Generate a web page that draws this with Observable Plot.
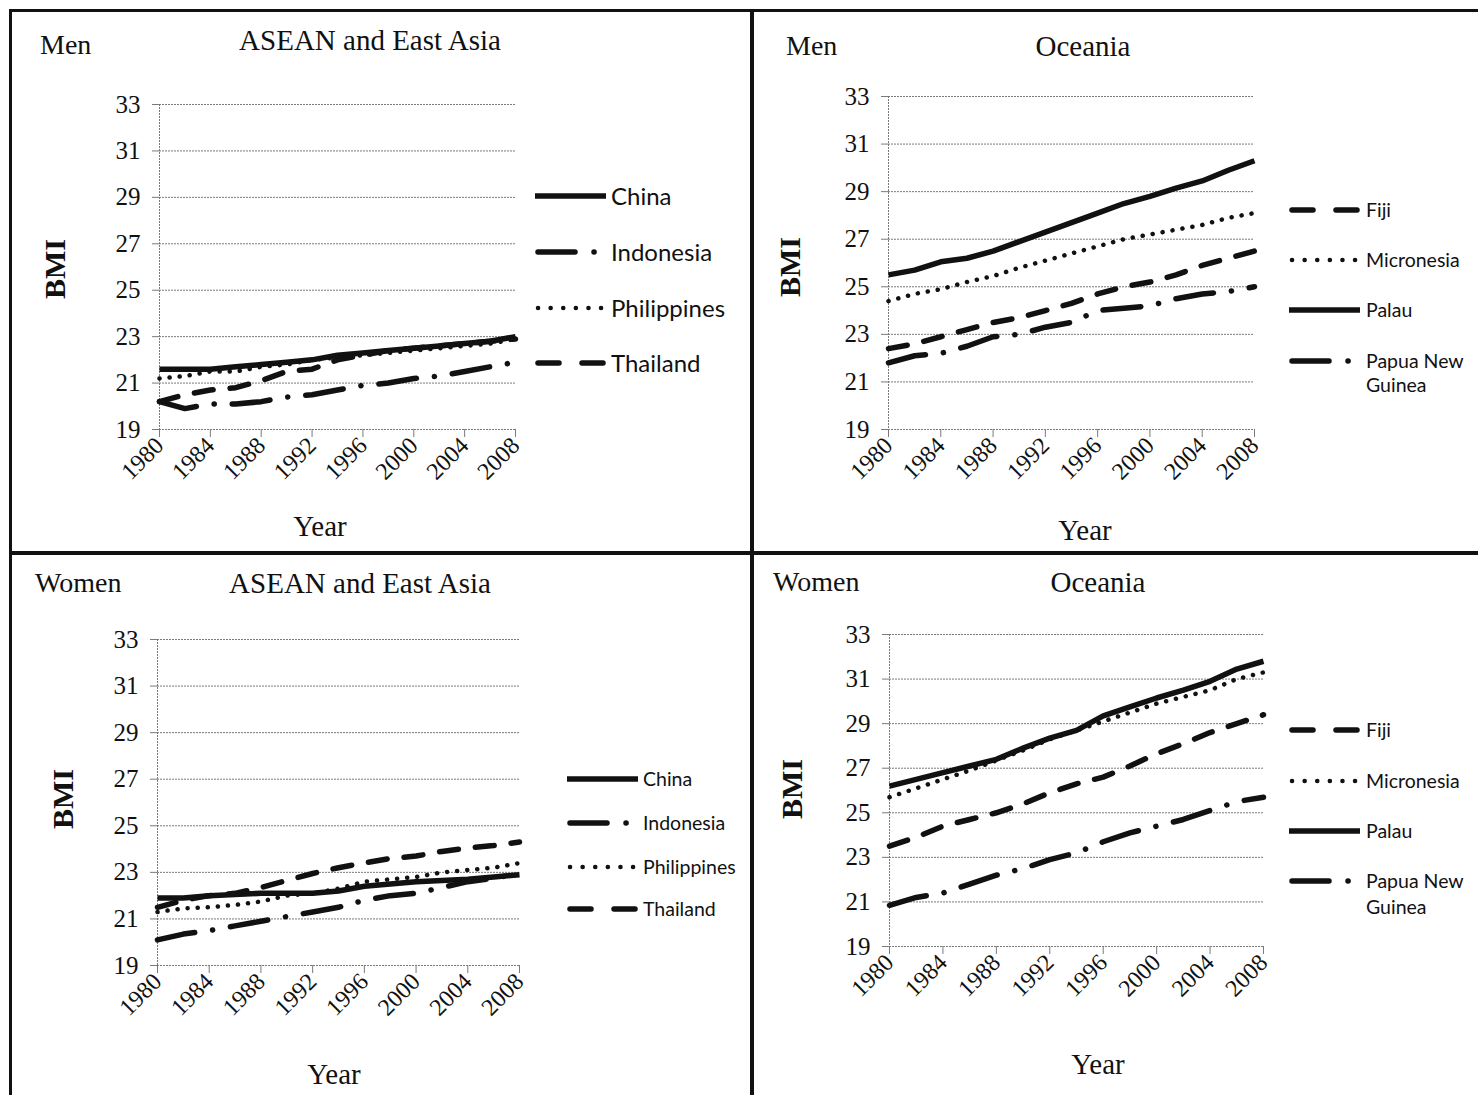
<!DOCTYPE html>
<html>
<head>
<meta charset="utf-8">
<script src="https://cdn.jsdelivr.net/npm/d3@7"></script>
<script src="https://cdn.jsdelivr.net/npm/@observablehq/plot@0.6"></script>
<style>
  html, body { margin: 0; padding: 0; background: #fff; }
  #page { position: relative; width: 1478px; height: 1095px; overflow: hidden; background: #fff; }
  .abs { position: absolute; }
  .serif { font-family: "Liberation Serif", "Times New Roman", serif; color: #111; }
  .leg { font-family: Lato, "Open Sans", sans-serif; color: #111; white-space: nowrap; }
  .rule { position: absolute; background: #111; }
</style>
</head>
<body>
<div id="page"></div>
<script>
// ---------------- DATA ----------------
const years = [1980,1982,1984,1986,1988,1990,1992,1994,1996,1998,2000,2002,2004,2006,2008];
const yTicks = [19,21,23,25,27,29,31,33];
const xTicks = [1980,1984,1988,1992,1996,2000,2004,2008];

// Men – ASEAN and East Asia
const menChina       = [21.6,21.6,21.6,21.7,21.8,21.9,22.0,22.2,22.3,22.4,22.5,22.6,22.7,22.8,23.0];
const menIndonesia   = [20.2,19.9,20.1,20.1,20.2,20.4,20.5,20.7,20.9,21.0,21.2,21.3,21.5,21.7,21.9];
const menPhilippines = [21.2,21.3,21.5,21.5,21.7,21.8,22.0,22.1,22.2,22.3,22.4,22.5,22.6,22.7,22.9];
const menThailand    = [20.2,20.5,20.7,20.8,21.1,21.5,21.6,22.0,22.2,22.4,22.5,22.6,22.7,22.8,22.9];

// Men – Oceania
const menFiji        = [22.4,22.6,22.9,23.2,23.5,23.7,24.0,24.3,24.7,25.0,25.2,25.5,25.9,26.2,26.5];
const menMicronesia  = [24.4,24.7,24.9,25.2,25.45,25.8,26.1,26.4,26.7,27.0,27.2,27.4,27.6,27.9,28.1];
const menPalau       = [25.5,25.7,26.05,26.2,26.5,26.9,27.3,27.7,28.1,28.5,28.8,29.15,29.45,29.9,30.3];
const menPNG         = [21.8,22.1,22.2,22.5,22.9,23.0,23.3,23.5,24.0,24.1,24.2,24.5,24.7,24.8,25.0];

// Women – ASEAN and East Asia
const womenChina       = [21.9,21.9,22.0,22.05,22.1,22.1,22.1,22.2,22.4,22.5,22.6,22.65,22.7,22.8,22.9];
const womenIndonesia   = [20.1,20.35,20.5,20.7,20.9,21.1,21.3,21.5,21.8,22.0,22.1,22.35,22.6,22.75,22.95];
const womenPhilippines = [21.3,21.45,21.5,21.6,21.75,22.0,22.1,22.3,22.6,22.7,22.8,23.0,23.1,23.2,23.4];
const womenThailand    = [21.5,21.8,22.0,22.1,22.35,22.65,22.95,23.2,23.4,23.6,23.7,23.9,24.05,24.15,24.3];

// Women – Oceania
const womenFiji        = [23.5,23.9,24.4,24.7,25.0,25.4,25.9,26.3,26.6,27.1,27.65,28.1,28.6,29.0,29.4];
const womenMicronesia  = [25.7,26.1,26.5,26.9,27.35,27.8,28.3,28.7,29.1,29.5,29.9,30.2,30.5,31.0,31.3];
const womenPalau       = [26.2,26.5,26.8,27.1,27.4,27.9,28.35,28.7,29.35,29.75,30.15,30.5,30.9,31.45,31.8];
const womenPNG         = [20.85,21.2,21.4,21.8,22.2,22.5,22.9,23.2,23.7,24.1,24.4,24.7,25.1,25.5,25.7];

// ---------------- STYLES (line patterns) ----------------
const STY = {
  solid:   {dash: null,            width: 5.5, legend: null},
  dotted:  {dash: "0.1 10",        width: 4.5, legend: "0.1 12.5"},
  dashed:  {dash: "19 17",         width: 5.5, legend: "21 23 21 300"},
  dashdot: {dash: "38 18 0.1 18",  width: 5.5, legend: "37 19 0.1 300"}
};

const page = document.getElementById("page");

function addText(txt, cls, css) {
  const d = document.createElement("div");
  d.className = "abs " + cls;
  d.textContent = txt;
  Object.assign(d.style, css);
  page.appendChild(d);
  return d;
}

function rule(x, y, w, h) {
  const d = document.createElement("div");
  d.className = "rule";
  Object.assign(d.style, {left: x + "px", top: y + "px", width: w + "px", height: h + "px"});
  page.appendChild(d);
}

function panel(cfg) {
  const mL = 80, mR = 20, mT = 20, mB = 90;
  const w = (cfg.x1 - cfg.x0) + mL + mR;
  const h = (cfg.y1 - cfg.y0) + mT + mB;
  const marks = [
    Plot.gridY(yTicks.slice(1), {stroke: "#7a7a7a", strokeOpacity: 1, strokeWidth: 1, strokeDasharray: "2 1"}),
    Plot.ruleY([19], {stroke: "#7a7a7a", strokeDasharray: "2 1"}),
    Plot.ruleX([1980], {stroke: "#7a7a7a", strokeDasharray: "2 1"}),
    Plot.axisY({ticks: yTicks, tickSize: 7, tickPadding: 12, tickFormat: d => String(d), fontSize: 25, stroke: "#7a7a7a", label: null}),
    Plot.axisX({ticks: xTicks, tickSize: 8, tickPadding: 4, tickRotate: -45, tickFormat: d => String(d), fontSize: 24, stroke: "#7a7a7a", label: null})
  ];
  for (const s of cfg.series) {
    const data = years.map((y, i) => ({year: y, bmi: s.values[i]}));
    const st = STY[s.style];
    marks.push(Plot.line(data, {
      x: "year", y: "bmi", stroke: "#111", strokeWidth: st.width,
      strokeDasharray: st.dash, strokeLinecap: st.dash ? "round" : "butt", strokeLinejoin: "round"
    }));
  }
  const svg = Plot.plot({
    width: w, height: h,
    marginLeft: mL, marginRight: mR, marginTop: mT, marginBottom: mB,
    x: {domain: [1980, 2008]},
    y: {domain: [19, 33]},
    style: {fontFamily: "'Liberation Serif', 'Times New Roman', serif", color: "#111", background: "transparent", overflow: "visible"},
    marks
  });
  svg.style.position = "absolute";
  svg.style.left = (cfg.x0 - mL) + "px";
  svg.style.top = (cfg.y0 - mT) + "px";
  page.appendChild(svg);

  // texts
  addText(cfg.sex, "serif", {left: cfg.sexX + "px", top: (cfg.sexY - 18) + "px", fontSize: "28px"});
  addText(cfg.title, "serif", {left: (cfg.titleCx - 250) + "px", width: "500px", textAlign: "center", top: (cfg.titleY - 18) + "px", fontSize: "29px"});
  addText("BMI", "serif", {left: (cfg.bmiX - 40) + "px", width: "80px", textAlign: "center", top: (cfg.bmiY - 18) + "px", fontSize: "30px", fontWeight: "bold", transform: "rotate(-90deg)"});
  addText("Year", "serif", {left: (cfg.yearX - 50) + "px", width: "100px", textAlign: "center", top: (cfg.yearY - 18) + "px", fontSize: "29px"});

  // legend
  const L = cfg.legend;
  cfg.series.forEach((s, i) => {
    const cy = L.rows[i];
    const st = STY[s.style];
    const ns = "http://www.w3.org/2000/svg";
    const sv = document.createElementNS(ns, "svg");
    sv.setAttribute("width", L.lx1 - L.lx0 + 10);
    sv.setAttribute("height", 12);
    sv.style.position = "absolute";
    sv.style.left = (L.lx0 - 5) + "px";
    sv.style.top = (cy - 6) + "px";
    const ln = document.createElementNS(ns, "line");
    ln.setAttribute("x1", 5 + (st.dash ? 3 : 0));
    ln.setAttribute("x2", L.lx1 - L.lx0 + 5);
    ln.setAttribute("y1", 6); ln.setAttribute("y2", 6);
    ln.setAttribute("stroke", "#111");
    ln.setAttribute("stroke-width", st.width);
    if (st.legend) { ln.setAttribute("stroke-dasharray", st.legend); ln.setAttribute("stroke-linecap", "round"); }
    sv.appendChild(ln);
    page.appendChild(sv);
    const lh = L.lineH;
    addText("", "leg", {left: L.tx + "px", top: (cy - lh / 2) + "px", fontSize: L.fs + "px", lineHeight: lh + "px"}).innerHTML = s.name.split("\n").join("<br>");
  });
}

// frame rules
rule(10, 9, 1468, 3);
rule(9, 9, 3, 1086);
rule(750, 9, 4, 1086);
rule(9, 551, 1469, 4);

panel({
  x0: 159, x1: 515, y0: 104, y1: 429,
  sex: "Men", sexX: 40, sexY: 47, title: "ASEAN and East Asia", titleCx: 370, titleY: 42,
  bmiX: 55, bmiY: 270, yearX: 320, yearY: 528,
  series: [
    {name: "China", values: menChina, style: "solid"},
    {name: "Indonesia", values: menIndonesia, style: "dashdot"},
    {name: "Philippines", values: menPhilippines, style: "dotted"},
    {name: "Thailand", values: menThailand, style: "dashed"}
  ],
  legend: {lx0: 535, lx1: 606, tx: 611, rows: [196, 252, 308, 363], fs: 24, lineH: 28}
});

panel({
  x0: 888, x1: 1254, y0: 96, y1: 429,
  sex: "Men", sexX: 786, sexY: 48, title: "Oceania", titleCx: 1083, titleY: 48,
  bmiX: 790, bmiY: 268, yearX: 1085, yearY: 532,
  series: [
    {name: "Fiji", values: menFiji, style: "dashed"},
    {name: "Micronesia", values: menMicronesia, style: "dotted"},
    {name: "Palau", values: menPalau, style: "solid"},
    {name: "Papua New\nGuinea", values: menPNG, style: "dashdot"}
  ],
  legend: {lx0: 1289, lx1: 1360, tx: 1366, rows: [210, 260, 310, 361], fs: 19.5, lineH: 24}
});

panel({
  x0: 157, x1: 519, y0: 639, y1: 965,
  sex: "Women", sexX: 35, sexY: 585, title: "ASEAN and East Asia", titleCx: 360, titleY: 585,
  bmiX: 63, bmiY: 800, yearX: 334, yearY: 1076,
  series: [
    {name: "China", values: womenChina, style: "solid"},
    {name: "Indonesia", values: womenIndonesia, style: "dashdot"},
    {name: "Philippines", values: womenPhilippines, style: "dotted"},
    {name: "Thailand", values: womenThailand, style: "dashed"}
  ],
  legend: {lx0: 567, lx1: 638, tx: 643, rows: [779, 823, 867, 909], fs: 19.5, lineH: 24}
});

panel({
  x0: 889, x1: 1263, y0: 634, y1: 946,
  sex: "Women", sexX: 773, sexY: 584, title: "Oceania", titleCx: 1098, titleY: 584,
  bmiX: 792, bmiY: 790, yearX: 1098, yearY: 1066,
  series: [
    {name: "Fiji", values: womenFiji, style: "dashed"},
    {name: "Micronesia", values: womenMicronesia, style: "dotted"},
    {name: "Palau", values: womenPalau, style: "solid"},
    {name: "Papua New\nGuinea", values: womenPNG, style: "dashdot"}
  ],
  legend: {lx0: 1289, lx1: 1360, tx: 1366, rows: [730, 781, 831, 881], fs: 19.5, lineH: 26}
});
</script>
</body>
</html>
